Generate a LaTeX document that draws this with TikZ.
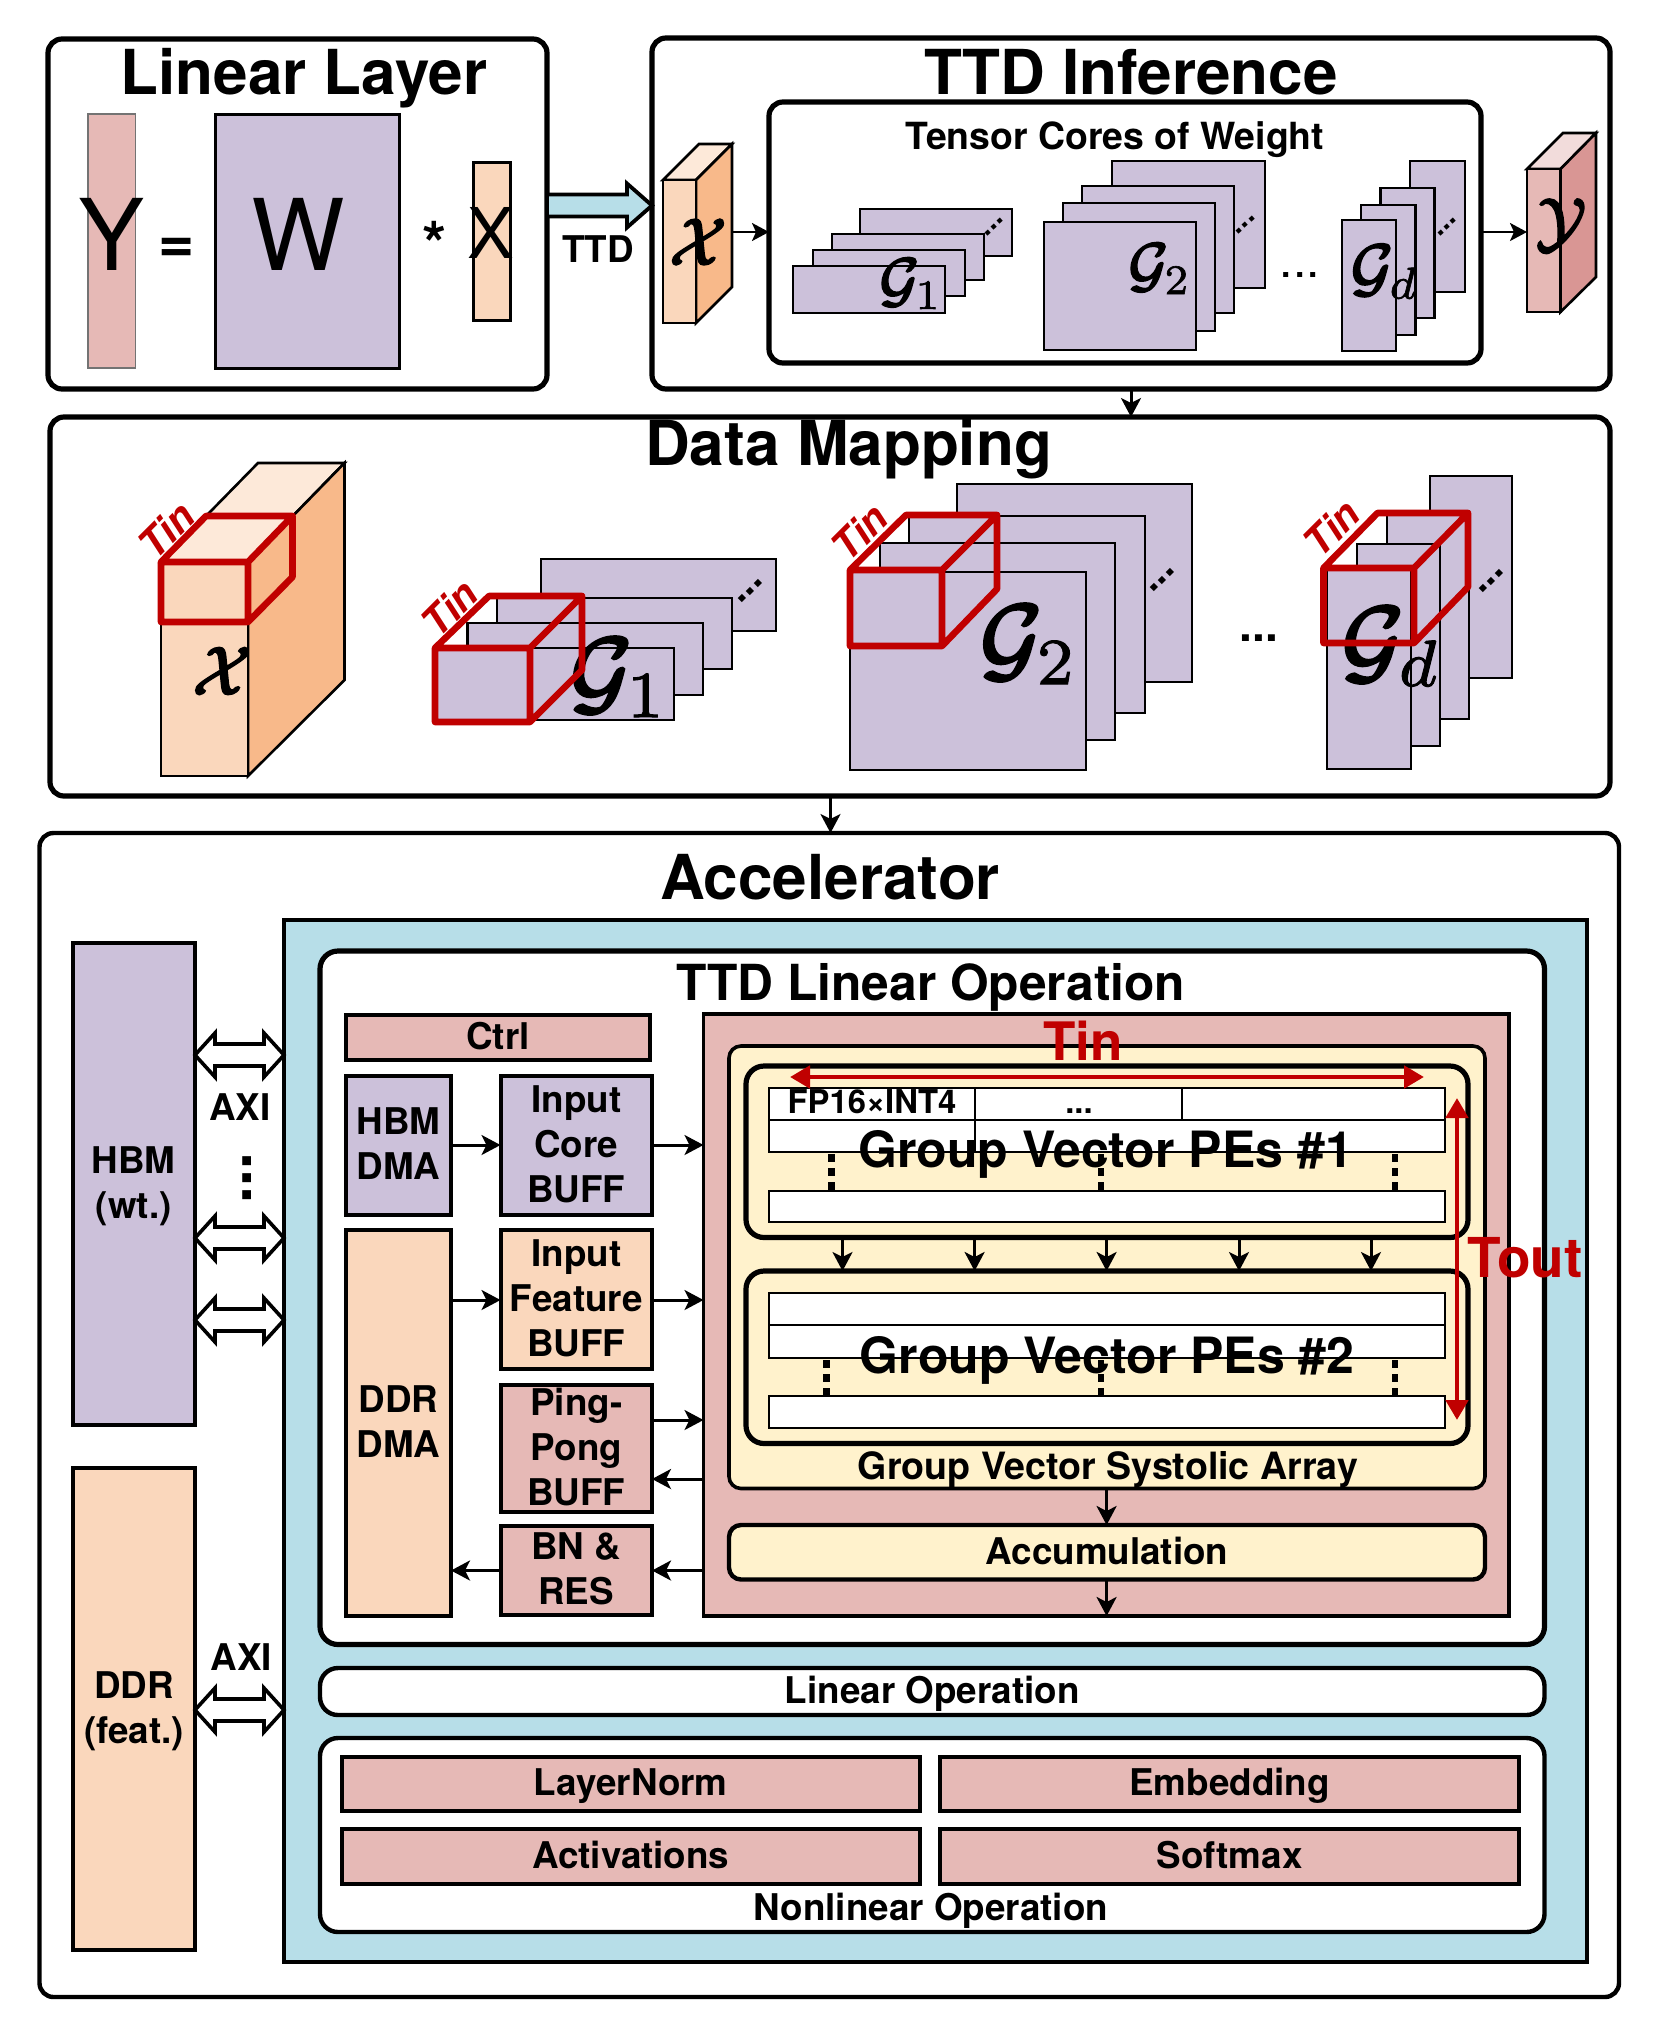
\documentclass[tikz,border=0pt]{standalone}
\usepackage[no-math]{fontspec}
\setmainfont{TeX Gyre Heros}
\usetikzlibrary{arrows.meta,calc}
\definecolor{cpink}{HTML}{E6B9B6}
\definecolor{cpurple}{HTML}{CCC1DA}
\definecolor{corange}{HTML}{FAD7BC}
\definecolor{cdorange}{HTML}{F8B98A}
\definecolor{cporange}{HTML}{FDE9D9}
\definecolor{cblue}{HTML}{B7DEE8}
\definecolor{cyellow}{HTML}{FFF2CC}
\definecolor{cdpink}{HTML}{D99694}
\definecolor{cppink}{HTML}{F2DCDB}
\definecolor{cred}{HTML}{C00000}
\newcommand\mt[1]{\raisebox{-0.31em}[0pt][0pt]{\begin{tabular}[c]{@{}c@{}}#1\end{tabular}}}
\newcommand\bx[7][]{\node[boxn,#1,minimum width={(#5-#3)*0.5pt},minimum height={(#6-#4)*0.5pt}] (#2) at ({(#3+#5)/2},{(#4+#6)/2}) {#7};}
\newcommand\hon{\special{pdf:code 2 Tr 0.35 w}}
\newcommand\hsub{\special{pdf:code 2 Tr 0.1 w}}
\newcommand\hoff{\special{pdf:code 0 Tr}}
\newcommand\bG[1]{\hon\mathcal{G}_{\hsub#1\hoff}}
\newcommand\bX{\hon\mathcal{X}\hoff}
\newcommand\bY{\hon\mathcal{Y}\hoff}
\tikzset{
  boxn/.style={draw=black,inner sep=0pt,outer sep=0pt,line width=2pt,line join=miter},
  card/.style={line width=2.6pt,rounded corners=7pt,fill=white},
  pebox/.style={line width=2.6pt,rounded corners=9pt,fill=cyellow},
  thinb/.style={line width=1.3pt},
  cell/.style={line width=1pt,fill=white},
  lbl/.style={inner sep=0pt,outer sep=0pt,anchor=base,font=\bfseries},
  f31/.style={font=\fontsize{31}{37}\selectfont\bfseries},
  f25/.style={font=\fontsize{24.85}{30}\selectfont\bfseries},
  f247/.style={font=\fontsize{25}{30}\selectfont\bfseries},
  f20/.style={font=\fontsize{18.7}{24}\selectfont\bfseries},
  f19/.style={font=\fontsize{18.8}{24}\selectfont\bfseries},
  f18/.style={font=\fontsize{18.4}{22.5}\selectfont\bfseries},
  mathl/.style={inner sep=0pt,outer sep=0pt},
  conn/.style={-{Stealth[length=9.5pt,width=10pt,inset=2.5pt]},line width=1.5pt},
  conns/.style={-{Stealth[length=8.5pt,width=9pt,inset=2pt]},line width=1.2pt},
  redarr/.style={{Triangle[length=10pt,width=11pt]}-{Triangle[length=10pt,width=11pt]},line width=2.4pt,draw=cred,fill=cred},
  redcube/.style={draw=cred,line width=3.3pt,line join=round},
  cubeline/.style={draw=black,line width=1.3pt,line join=miter},
  tint/.style={inner sep=0pt,outer sep=0pt,text=cred,rotate=45,font=\fontsize{20}{24}\selectfont\bfseries\itshape},
  dotd/.style={inner sep=0pt,outer sep=0pt,rotate=42,font=\fontsize{15}{20}\selectfont\bfseries},
  dotb/.style={inner sep=0pt,outer sep=0pt,rotate=45,font=\fontsize{20}{24}\selectfont\bfseries},
  vdash/.style={draw=black,line width=3.2pt,dash pattern=on 4pt off 3pt},
  hollowboth/.style={draw=black,fill=white,line width=1.8pt,line join=miter,to path={
    let \p1=(\tikztostart),\p2=(\tikztotarget) in
    (\x1,\y1) -- (\x1+10pt,\y1+11pt) -- (\x1+10pt,\y1+5.5pt) -- (\x2-10pt,\y1+5.5pt) -- (\x2-10pt,\y1+11pt)
    -- (\x2,\y1) -- (\x2-10pt,\y1-11pt) -- (\x2-10pt,\y1-5.5pt) -- (\x1+10pt,\y1-5.5pt) -- (\x1+10pt,\y1-11pt) -- cycle}},
  hollowright/.style={draw=black,fill=cblue,line width=1.9pt,line join=miter,to path={
    let \p1=(\tikztostart),\p2=(\tikztotarget) in
    (\x1,\y1+5.5pt) -- (\x2-12.5pt,\y1+5.5pt) -- (\x2-12.5pt,\y1+11pt) -- (\x2,\y1)
    -- (\x2-12.5pt,\y1-11pt) -- (\x2-12.5pt,\y1-5.5pt) -- (\x1,\y1-5.5pt) -- cycle}},
}
\begin{document}
\begin{tikzpicture}[x=0.5pt,y=-0.5pt]
\useasboundingbox (0,0) rectangle (1660,2036);
\fill[white] (0,0) rectangle (1660,2036);

% ---- Linear Layer
\bx[card]{linear}{48}{39}{547}{389}{}
\node[lbl,f31] (tlinear) at (304,94) {Linear Layer};
\bx[draw=black!55,line width=0.6pt,fill=cpink]{ybar}{88}{114}{135.5}{368}{}
\bx[line width=1.5pt,fill=cpurple]{wmat}{215}{114}{399}{368}{}
\bx[line width=1.5pt,fill=corange]{xbar}{473}{162}{510}{320}{}
\node[lbl,font=\fontsize{49.5}{55}\selectfont] (ly) at (112,270) {Y};
\node[lbl,font=\fontsize{49.5}{55}\selectfont] (lw) at (298,270) {W};
\node[lbl,font=\fontsize{35}{40}\selectfont] (lx) at (491,258) {X};
\node[lbl,font=\fontsize{31}{34}\selectfont\bfseries] (leq) at (177,262) {=};
\node[lbl,font=\fontsize{31}{34}\selectfont\bfseries] (last) at (435,266) {*};

% ---- TTD Inference
\bx[card]{ttdinf}{652}{38}{1610}{389}{}
\bx[card]{cores}{769}{102}{1481}{363}{}
\node[lbl,f31] (tinf) at (1131,94) {TTD Inference};
\node[lbl,f20] (tcores) at (1115,149) {Tensor Cores of Weight};
\coordinate (arrA) at (547,205.5);
\coordinate (arrB) at (652,205.5);
\draw[hollowright] (arrA) to (arrB);
\node[lbl,f18] (lttd) at (598,262) {TTD};
% small X cube
\filldraw[cubeline,fill=cporange] (663,180) -- (699,144) -- (732,144) -- (696,180) -- cycle;
\filldraw[cubeline,fill=cdorange] (696,180) -- (732,144) -- (732,287) -- (696,323) -- cycle;
\bx[thinb,fill=corange]{xfront}{663}{180}{696}{323}{}
\node[mathl,scale=3.3] (mx) at (698,242) {$\bX$};
\coordinate (xout) at (732,232);
\draw[conns] (xout) -- (cores.west |- xout);
% small Y cube
\filldraw[cubeline,fill=cppink] (1527,169) -- (1563,133) -- (1596,133) -- (1560.5,169) -- cycle;
\filldraw[cubeline,fill=cdpink] (1560.5,169) -- (1596,133) -- (1596,277) -- (1560.5,312) -- cycle;
\bx[thinb,fill=cpink]{yfront}{1527}{169}{1560.5}{312}{}
\node[mathl,scale=3.3] (my) at (1561,225) {$\bY$};
\coordinate (yin) at (1484,232);
\draw[conns] (cores.east |- yin) -- (yfront.west |- yin);
% G1
\bx[thinb,fill=cpurple]{ga4}{860}{209}{1012}{256}{}
\bx[thinb,fill=cpurple]{ga3}{832}{234}{984}{280}{}
\bx[thinb,fill=cpurple]{ga2}{813}{250}{965}{296}{}
\bx[thinb,fill=cpurple]{ga1}{793}{266}{945}{313}{}
\node[mathl,scale=3] (mg1) at (911,284) {$\bG{1}$};
\node[dotd] (da1) at (994,227) {...};
% G2
\bx[thinb,fill=cpurple]{gb4}{1112}{161}{1265}{288}{}
\bx[thinb,fill=cpurple]{gb3}{1082}{186}{1234}{313}{}
\bx[thinb,fill=cpurple]{gb2}{1063}{203}{1215}{331}{}
\bx[thinb,fill=cpurple]{gb1}{1044}{222}{1196}{350}{}
\node[mathl,scale=3] (mg2) at (1160,269) {$\bG{2}$};
\node[dotd] (db1) at (1245.5,225) {...};
\node[inner sep=0pt,font=\fontsize{24}{28}\selectfont] (dtop) at (1300,275) {...};
% Gd
\bx[thinb,fill=cpurple]{gc4}{1410}{161}{1465}{292}{}
\bx[thinb,fill=cpurple]{gc3}{1380.5}{188}{1434.5}{318}{}
\bx[thinb,fill=cpurple]{gc2}{1361}{205}{1415.5}{335}{}
\bx[thinb,fill=cpurple]{gc1}{1342}{220}{1396}{351}{}
\node[mathl,scale=3.2] (mgd) at (1385,272) {$\bG{d}$};
\node[dotd] (dc1) at (1447,227) {...};

% ---- Data Mapping
\bx[card]{mapping}{50}{417}{1610}{796}{}
\draw[conn] (ttdinf.south -| 1131,0) -- (mapping.north -| 1131,0);
\node[lbl,f31] (tmap) at (848.5,465) {Data Mapping};
% big X
\filldraw[cubeline,fill=cporange] (161,562) -- (258,463) -- (344.5,463) -- (248,562) -- cycle;
\filldraw[cubeline,fill=cdorange] (248,562) -- (344.5,463) -- (344.5,680) -- (248,776) -- cycle;
\bx[thinb,fill=corange]{bigx}{161}{562}{248}{776}{}
\node[mathl,scale=3.4] (mbx) at (222,671) {$\bX$};
\draw[redcube] (161,562) rectangle (248,622) (161,562) -- (206,516) -- (292.5,516) -- (248,562) (292.5,516) -- (292.5,577) -- (248,622);
\node[tint] (tina) at (166,530) {Tin};
% big G1
\bx[thinb,fill=cpurple]{ma4}{541}{559}{776}{631}{}
\bx[thinb,fill=cpurple]{ma3}{497}{598}{732}{669}{}
\bx[thinb,fill=cpurple]{ma2}{467.5}{623}{703}{695}{}
\bx[thinb,fill=cpurple]{ma1}{435}{648}{674}{720}{}
\node[mathl,scale=4.7] (bg1) at (619.5,678) {$\bG{1}$};
\node[dotb] (dma) at (750,591) {...};
\draw[redcube] (435,648) rectangle (530,722) (435,648) -- (489,596) -- (582,596) -- (530,648) (582,596) -- (582,670) -- (530,722);
\node[tint] (tinb) at (449.5,608) {Tin};
% big G2
\bx[thinb,fill=cpurple]{mb4}{957}{484}{1192}{682}{}
\bx[thinb,fill=cpurple]{mb3}{909}{516}{1145}{713}{}
\bx[thinb,fill=cpurple]{mb2}{880}{543}{1115}{740}{}
\bx[thinb,fill=cpurple]{mb1}{850}{572}{1086}{770}{}
\node[mathl,scale=4.7] (bg2) at (1029.5,645) {$\bG{2}$};
\node[dotb] (dmb) at (1162,580) {...};
\draw[redcube] (850,570) rectangle (942,646) (850,570) -- (906,515) -- (997,515) -- (942,570) (997,515) -- (997,589) -- (942,646);
\node[tint] (tinc) at (859.5,532) {Tin};
\node[inner sep=0pt,font=\fontsize{23}{27}\selectfont\bfseries] (dmid) at (1259,638) {...};
% big Gd
\bx[thinb,fill=cpurple]{mc4}{1430}{476}{1512}{678}{}
\bx[thinb,fill=cpurple]{mc3}{1387}{515}{1469}{719}{}
\bx[thinb,fill=cpurple]{mc2}{1357}{544}{1440}{746}{}
\bx[thinb,fill=cpurple]{mc1}{1327}{568}{1411}{769}{}
\node[mathl,scale=4.7] (bgd) at (1392,647) {$\bG{d}$};
\node[dotb] (dmc) at (1491,581) {...};
\draw[redcube] (1323.5,568) rectangle (1414,643) (1323.5,568) -- (1377.5,513) -- (1468,513) -- (1414,568) (1468,513) -- (1468,587) -- (1414,643);
\node[tint] (tind) at (1331.5,528) {Tin};

% ---- Accelerator
\bx[line width=2.2pt,rounded corners=7pt,fill=white]{accel}{39.5}{833}{1619}{1997}{}
\draw[conn] (mapping.south -| 830.5,0) -- (accel.north -| 830.5,0);
\node[lbl,f31] (tacc) at (830,899) {Accelerator};
\bx[fill=cblue]{blue}{284}{920}{1587}{1962}{}
\bx[fill=cpurple,f18]{hbm}{72.5}{943}{195}{1425}{\mt{HBM\\(wt.)}}
\bx[fill=corange,f18]{ddr}{72.5}{1468}{195}{1950}{}
\node[lbl,f18] (ddrt) at (134,1698) {DDR};
\node[lbl,f18] (ddrf) at (134,1743) {(feat.)};
\node[lbl,f18] (axia) at (240,1120.5) {AXI};
\node[lbl,f18] (axib) at (241.5,1670) {AXI};
\node[inner sep=0pt,rotate=90,font=\fontsize{30}{34}\selectfont\bfseries] (vdots) at (247,1178) {...};
\coordinate (s1) at (hbm.east |- 0,1055); \coordinate (t1) at (blue.west |- 0,1055);
\coordinate (s2) at (hbm.east |- 0,1238); \coordinate (t2) at (blue.west |- 0,1238);
\coordinate (s3) at (hbm.east |- 0,1320); \coordinate (t3) at (blue.west |- 0,1320);
\coordinate (s4) at (ddr.east |- 0,1710); \coordinate (t4) at (blue.west |- 0,1710);
\draw[hollowboth] (s1) to (t1);
\draw[hollowboth] (s2) to (t2);
\draw[hollowboth] (s3) to (t3);
\draw[hollowboth] (s4) to (t4);

% TTD Linear Operation
\bx[card,rounded corners=9pt]{tlo}{320}{951}{1544.5}{1644.5}{}
\node[lbl,f25] (ttlo) at (931,1000) {TTD Linear Operation};
\bx[fill=cpink,f18]{ctrl}{346}{1015}{650}{1060}{\mt{Ctrl}}
\bx[fill=cpurple,f18]{hdma}{346}{1076}{451}{1215}{\mt{HBM\\DMA}}
\bx[fill=cpurple,f18]{icore}{500.5}{1076}{652}{1215}{\mt{Input\\Core\\BUFF}}
\bx[fill=corange,f18]{ddma}{346}{1230}{451}{1616}{\mt{DDR\\DMA}}
\bx[fill=corange,f18]{ifeat}{500.5}{1230}{652}{1369}{\mt{Input\\Feature\\BUFF}}
\bx[fill=cpink,f18]{ppong}{500.5}{1384.5}{652}{1512}{\mt{Ping-\\Pong\\BUFF}}
\bx[fill=cpink,f18]{bnres}{500.5}{1526}{652}{1615}{\mt{BN \&\\RES}}
\bx[fill=cpink,line width=1.8pt]{main}{703.5}{1014}{1509}{1616}{}
\bx[fill=cyellow,line width=1.8pt,rounded corners=6pt]{syst}{729}{1046}{1485}{1488.5}{}
\bx[pebox]{pea}{746}{1066}{1468}{1237.5}{}
\bx[pebox]{peb}{746}{1271}{1468}{1443.5}{}
\bx[fill=cyellow,line width=2.2pt,rounded corners=6pt,font=\fontsize{18.4}{22.5}\selectfont\bfseries]{accu}{729}{1525}{1485}{1579.5}{\mt{Accumulation}}
% rows PE1
\bx[cell,font=\fontsize{16.4}{20}\selectfont\bfseries]{c11}{769}{1088}{975}{1119.5}{\mt{FP16×INT4}}
\bx[cell]{c12}{975}{1088}{1182}{1119.5}{}
\bx[cell]{c13}{1182}{1088}{1445}{1119.5}{}
\bx[cell]{c21}{769}{1119.5}{975}{1152}{}
\bx[cell]{c22}{975}{1119.5}{1445}{1152}{}
\bx[cell]{c31}{769}{1190.5}{1445}{1222}{}
\node[lbl,font=\fontsize{16.4}{20}\selectfont\bfseries] (cdots) at (1079,1113.5) {...};
\draw[vdash] (831.5,1154) -- (831.5,1190);
\draw[vdash] (1101,1154) -- (1101,1190);
\draw[vdash] (1395,1154) -- (1395,1190);
% rows PE2
\bx[cell]{d1}{769}{1293}{1445}{1325}{}
\bx[cell]{d2}{769}{1325}{1445}{1357.5}{}
\bx[cell]{d3}{769}{1396}{1445}{1428}{}
\draw[vdash] (826.5,1360) -- (826.5,1396);
\draw[vdash] (1101,1360) -- (1101,1396);
\draw[vdash] (1395,1360) -- (1395,1396);
\node[lbl,f247] (lpea) at (1105.5,1167) {Group Vector PEs \#1};
\node[lbl,f247] (lpeb) at (1107,1373) {Group Vector PEs \#2};
\node[lbl,f19] (lsys) at (1108,1479.5) {Group Vector Systolic Array};
% connectors
\foreach \xx/\nn in {842.5/a,974.6/b,1106.6/c,1239/d,1371/e} {
  \coordinate (pa\nn) at (\xx,1237.5);
  \coordinate (pb\nn) at (\xx,1271);
  \draw[conn] (pa\nn) -- (pb\nn);
}
\draw[conn] (hdma.east |- 0,1145) -- (icore.west |- 0,1145);
\draw[conn] (icore.east |- 0,1145) -- (main.west |- 0,1145);
\draw[conn] (ddma.east |- 0,1300) -- (ifeat.west |- 0,1300);
\draw[conn] (ifeat.east |- 0,1300) -- (main.west |- 0,1300);
\draw[conn] (ppong.east |- 0,1420) -- (main.west |- 0,1420);
\draw[conn] (main.west |- 0,1479) -- (ppong.east |- 0,1479);
\draw[conn] (main.west |- 0,1570.5) -- (bnres.east |- 0,1570.5);
\draw[conn] (bnres.west |- 0,1570.5) -- (ddma.east |- 0,1570.5);
\draw[conn] (syst.south -| 1106.6,0) -- (accu.north -| 1106.6,0);
\draw[conn] (accu.south -| 1106.6,0) -- (main.south -| 1106.6,0);
% red arrows and labels
\coordinate (ta) at (790,1077); \coordinate (tb) at (1424,1077);
\coordinate (ua) at (1457,1098); \coordinate (ub) at (1457,1420);
\draw[redarr] (ta) -- (tb);
\draw[redarr] (ua) -- (ub);
\node[lbl,text=cred,font=\fontsize{26.5}{30}\selectfont\bfseries] (ltin) at (1083,1060) {Tin};
\node[lbl,text=cred,font=\fontsize{27.5}{30}\selectfont\bfseries] (ltout) at (1525,1277) {Tout};

% Linear Operation
\bx[card,line width=2.2pt,rounded corners=9pt,f18]{lino}{320}{1668}{1544.5}{1715}{\mt{Linear Operation}}
\bx[card,line width=2.2pt,rounded corners=9pt]{nonl}{320}{1738}{1544.5}{1932}{}
\bx[fill=cpink,f18]{layern}{342}{1757}{919.5}{1811}{\mt{LayerNorm}}
\bx[fill=cpink,f18]{embed}{940}{1757}{1519}{1811}{\mt{Embedding}}
\bx[fill=cpink,f18]{activ}{342}{1829}{919.5}{1884}{\mt{Activations}}
\bx[fill=cpink,f18]{softm}{940}{1829}{1519}{1884}{\mt{Softmax}}
\node[lbl,f18] (lnon) at (931,1920) {Nonlinear Operation};
\end{tikzpicture}
\end{document}
